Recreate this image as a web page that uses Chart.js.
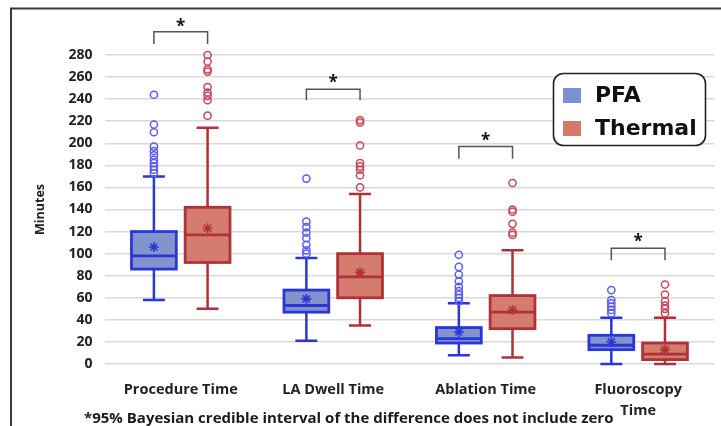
<!DOCTYPE html>
<html>
<head>
<meta charset="utf-8">
<script src="https://cdn.jsdelivr.net/npm/chart.js@4.4.1/dist/chart.umd.min.js"></script>
<style>
  html, body { margin: 0; padding: 0; background: #fff; }
  #wrap { width: 721px; height: 426px; }
</style>
</head>
<body>
<div id="wrap"><canvas id="chart" width="721" height="426"></canvas></div>
<script>
// categories and box statistics (minutes)
const categories = ['Procedure Time', 'LA Dwell Time', 'Ablation Time', ['Fluoroscopy', 'Time']];
const seriesNames = ['PFA', 'Thermal'];

const pfaMin = [58, 21, 8, 0];
const pfaQ1 = [86, 47, 19, 13];
const pfaMedian = [98, 53, 23, 17];
const pfaQ3 = [120, 67, 33, 26];
const pfaMax = [170, 96, 55, 42];
const pfaMean = [106, 59, 29, 20];
const pfaOutliers = [
  [244, 217, 210, 197, 193, 189, 185, 182, 179, 176, 173],
  [168, 129, 124, 119, 114, 108, 103, 100],
  [99, 88, 81, 75, 70, 66, 63, 60, 57],
  [67, 58, 55, 52, 49, 46]
];

const thermalMin = [50, 35, 6, 0];
const thermalQ1 = [92, 60, 32, 4];
const thermalMedian = [117, 79, 47, 9];
const thermalQ3 = [142, 100, 62, 19];
const thermalMax = [214, 154, 103, 42];
const thermalMean = [123, 83, 49, 13];
const thermalOutliers = [
  [280, 274, 267, 265, 251, 246, 243, 239, 225],
  [221, 219, 198, 182, 179, 176, 171, 160],
  [164, 140, 138, 127, 119, 117],
  [72, 63, 57, 53, 50, 46]
];

// significance brackets (top of bracket, bottom of legs, star)
const bracketTop = [301, 249, 197, 105];
const bracketLeg = [290, 239, 186, 94];
const bracketStar = [309, 258, 206, 114];
const footnote = '*95% Bayesian credible interval of the difference does not include zero';

const yTicks = [0, 280, 20];

// styles
const PFA_OFFSET = -0.176;
const THERMAL_OFFSET = 0.176;
const BOX_HALF = 0.147;
const CAP_HALF = 0.072;
const LABEL_FONT = 'Open Sans';

const groups = [
  { offset: PFA_OFFSET, min: pfaMin, q1: pfaQ1, med: pfaMedian, q3: pfaQ3, max: pfaMax,
    fill: '#8393cc', stroke: '#2a36d8' },
  { offset: THERMAL_OFFSET, min: thermalMin, q1: thermalQ1, med: thermalMedian, q3: thermalQ3, max: thermalMax,
    fill: '#d47c6e', stroke: '#b0313a' }
];

const toPoints = (lists, off) => lists.flatMap((vals, i) => vals.map(v => ({ x: i + off, y: v })));
const meanPoints = (vals, off) => vals.map((v, i) => ({ x: i + off, y: v }));

// box, whiskers and caps drawn through the chart scales
const boxPlugin = {
  id: 'boxes',
  beforeDatasetsDraw(chart) {
    const { ctx, scales: { x, y } } = chart;
    const half = x.getPixelForValue(BOX_HALF) - x.getPixelForValue(0);
    const cap = x.getPixelForValue(CAP_HALF) - x.getPixelForValue(0);
    ctx.save();
    groups.forEach(g => {
      categories.forEach((c, i) => {
        const cx = x.getPixelForValue(i + g.offset);
        const yMin = y.getPixelForValue(g.min[i]);
        const yQ1 = y.getPixelForValue(g.q1[i]);
        const yMed = y.getPixelForValue(g.med[i]);
        const yQ3 = y.getPixelForValue(g.q3[i]);
        const yMax = y.getPixelForValue(g.max[i]);
        ctx.strokeStyle = g.stroke;
        ctx.lineWidth = 2.5;
        ctx.beginPath();
        ctx.moveTo(cx, yMin); ctx.lineTo(cx, yQ1);
        ctx.moveTo(cx, yQ3); ctx.lineTo(cx, yMax);
        ctx.moveTo(cx - cap, yMin); ctx.lineTo(cx + cap, yMin);
        ctx.moveTo(cx - cap, yMax); ctx.lineTo(cx + cap, yMax);
        ctx.stroke();
        ctx.fillStyle = g.fill;
        ctx.fillRect(cx - half, yQ3, half * 2, yQ1 - yQ3);
        ctx.lineWidth = 2.8;
        ctx.strokeRect(cx - half, yQ3, half * 2, yQ1 - yQ3);
        ctx.beginPath();
        ctx.moveTo(cx - half, yMed); ctx.lineTo(cx + half, yMed);
        ctx.stroke();
      });
    });
    ctx.restore();
  }
};

const extrasPlugin = {
  id: 'extras',
  beforeDraw(chart) {
    const { ctx } = chart;
    ctx.save();
    ctx.strokeStyle = '#3a3a3a';
    ctx.lineWidth = 2;
    ctx.beginPath();
    ctx.moveTo(11, 426); ctx.lineTo(11, 8.5); ctx.lineTo(721, 8.5);
    ctx.stroke();
    ctx.restore();
  },
  afterDraw(chart) {
    const { ctx, scales: { x, y } } = chart;
    ctx.save();
    // brackets
    ctx.strokeStyle = '#555';
    ctx.lineWidth = 1.5;
    ctx.fillStyle = '#111';
    ctx.textAlign = 'center';
    ctx.textBaseline = 'middle';
    ctx.font = 'bold 17px "' + LABEL_FONT + '"';
    bracketTop.forEach((t, i) => {
      const x1 = x.getPixelForValue(i + PFA_OFFSET);
      const x2 = x.getPixelForValue(i + THERMAL_OFFSET);
      const yt = y.getPixelForValue(t);
      const yl = y.getPixelForValue(bracketLeg[i]);
      ctx.beginPath();
      ctx.moveTo(x1, yl); ctx.lineTo(x1, yt); ctx.lineTo(x2, yt); ctx.lineTo(x2, yl);
      ctx.stroke();
      ctx.fillText('*', (x1 + x2) / 2, y.getPixelForValue(bracketStar[i]) + 4);
    });

    // legend
    ctx.fillStyle = '#fff';
    ctx.strokeStyle = '#222';
    ctx.lineWidth = 1.6;
    ctx.beginPath();
    ctx.roundRect(553.5, 73.5, 152, 72, 10);
    ctx.fill();
    ctx.stroke();
    const legendColors = ['#7f90d2', '#d4786a'];
    const legendY = [96, 129];
    ctx.font = 'bold 22px "DejaVu Sans"';
    ctx.textAlign = 'left';
    ctx.textBaseline = 'alphabetic';
    seriesNames.forEach((name, i) => {
      ctx.fillStyle = legendColors[i];
      ctx.fillRect(563, legendY[i] - 8, 18, 15);
      ctx.fillStyle = '#111';
      ctx.fillText(name, 595, legendY[i] + 6);
    });

    // footnote
    ctx.font = 'bold 15px "' + LABEL_FONT + '"';
    ctx.fillStyle = '#1a1a1a';
    ctx.textBaseline = 'middle';
    ctx.fillText(footnote, 84, 419);
    ctx.restore();
  }
};

new Chart(document.getElementById('chart'), {
  type: 'scatter',
  data: {
    datasets: [
      {
        label: 'PFA outliers',
        data: toPoints(pfaOutliers, PFA_OFFSET),
        pointStyle: 'circle', pointRadius: 3.6, borderWidth: 1.5,
        borderColor: '#5b5cf0', backgroundColor: 'rgba(0,0,0,0)', clip: false
      },
      {
        label: 'Thermal outliers',
        data: toPoints(thermalOutliers, THERMAL_OFFSET),
        pointStyle: 'circle', pointRadius: 3.6, borderWidth: 1.5,
        borderColor: '#c2485a', backgroundColor: 'rgba(0,0,0,0)', clip: false
      },
      {
        label: 'PFA mean',
        data: meanPoints(pfaMean, PFA_OFFSET),
        pointStyle: 'star', pointRadius: 5, borderWidth: 1.6,
        borderColor: '#2a36d8', clip: false
      },
      {
        label: 'Thermal mean',
        data: meanPoints(thermalMean, THERMAL_OFFSET),
        pointStyle: 'star', pointRadius: 5, borderWidth: 1.6,
        borderColor: '#b0313a', clip: false
      }
    ]
  },
  options: {
    responsive: false,
    animation: false,
    layout: { padding: { top: 55, right: 3.6, left: 28, bottom: 0 } },
    plugins: {
      legend: { display: false },
      tooltip: { enabled: false }
    },
    scales: {
      x: {
        type: 'linear',
        min: -0.5,
        max: 3.5,
        grid: { display: false },
        border: { display: false },
        afterBuildTicks: (s) => { s.ticks = categories.map((c, i) => ({ value: i })); },
        afterFit: (s) => { s.height = 62; },
        ticks: {
          autoSkip: false,
          maxRotation: 0,
          padding: 8,
          color: '#222',
          font: { family: LABEL_FONT, weight: 'bold', size: 14.5, lineHeight: 1.4 },
          callback: (v) => categories[v]
        }
      },
      y: {
        min: yTicks[0],
        max: yTicks[1],
        grid: { color: '#d9d9d9', lineWidth: 1.5, drawTicks: false },
        border: { display: false },
        afterFit: (s) => { s.width = 76.5; },
        ticks: {
          stepSize: yTicks[2],
          padding: 12,
          color: '#222',
          font: { family: LABEL_FONT, weight: 'bold', size: 14 }
        },
        title: {
          display: true,
          text: 'Minutes',
          color: '#222',
          padding: { top: 5, bottom: 0 },
          font: { family: LABEL_FONT, weight: 'bold', size: 12.5 }
        }
      }
    }
  },
  plugins: [boxPlugin, extrasPlugin]
});
</script>
</body>
</html>
